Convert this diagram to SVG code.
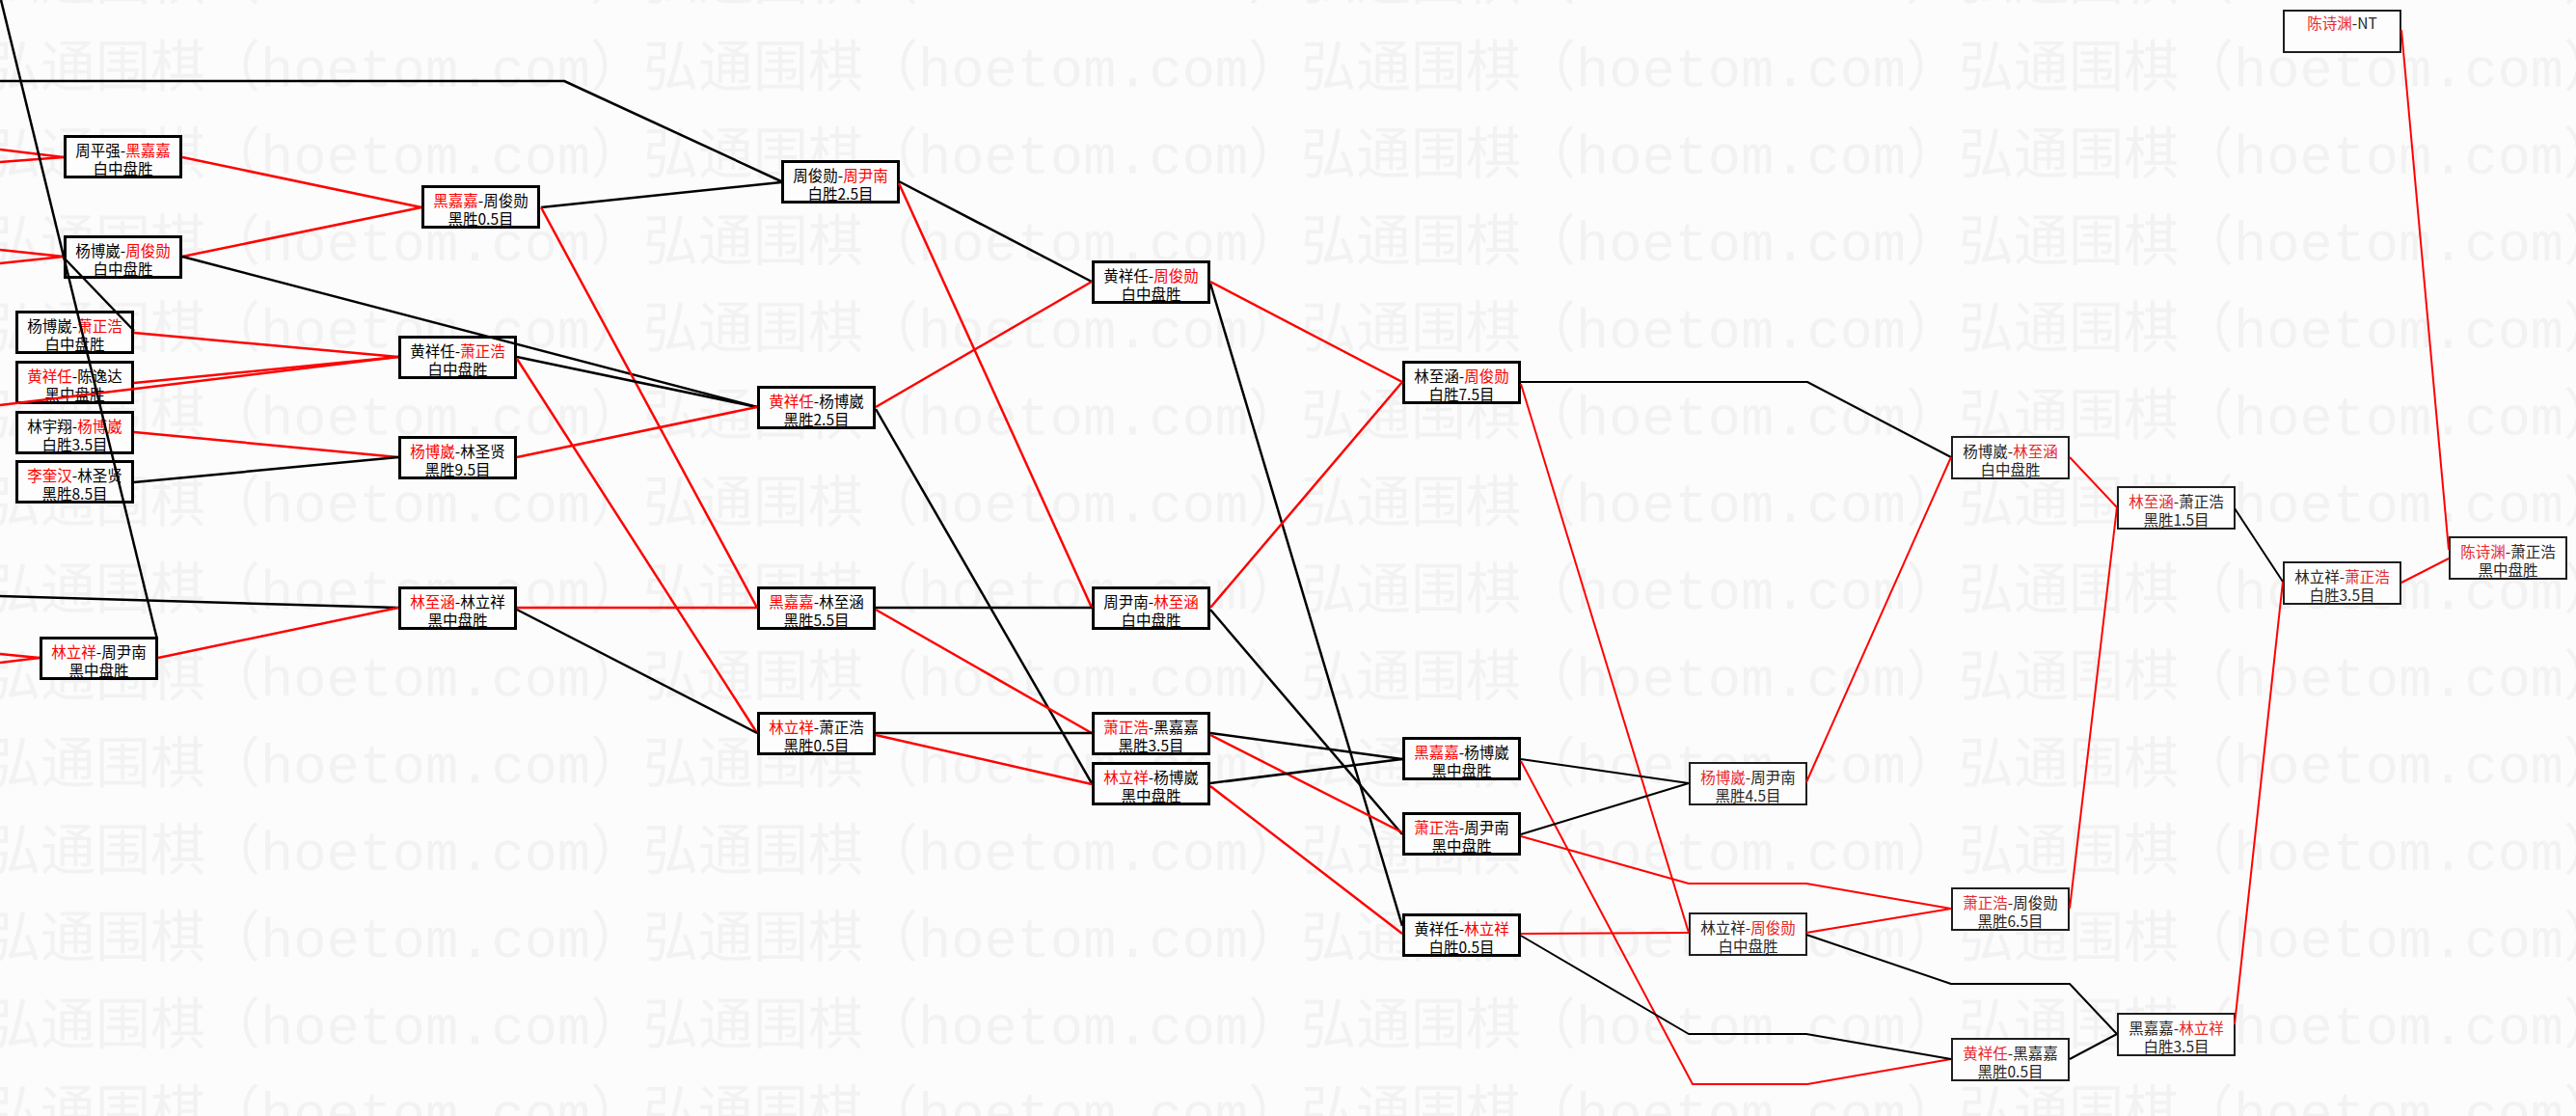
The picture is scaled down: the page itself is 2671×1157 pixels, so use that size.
<svg xmlns="http://www.w3.org/2000/svg" width="2671" height="1157" viewBox="0 0 2671 1157">
<style>
.wm{font-family:"Liberation Mono","Noto Sans CJK SC",monospace;font-size:57px;fill:#f2f2f2}
.n rect{fill:#fdfdfd;stroke:#000;stroke-width:3}
.m rect{fill:#fdfdfd;stroke:#1e1e1e;stroke-width:2}
.n text,.m text{font-family:"Noto Sans CJK SC",sans-serif;font-size:15.5px;text-anchor:middle;fill:#000}
.m text{fill:#262626}
.r{fill:#f00}
.m .r{fill:#e8282c}
#conn polyline{fill:none;stroke-width:2.5;stroke-linejoin:round}
#conn .k{stroke:#000}
#conn .d{stroke:#f00}
#conn .s{stroke-width:2}
</style>
<defs>
<pattern id="wmp" patternUnits="userSpaceOnUse" x="-15" y="30" width="682" height="90.25">
<text class="wm" x="0" y="60">弘通围棋（hoetom.com）</text>
</pattern>
</defs>
<rect width="2671" height="1157" fill="#fcfcfc"/>
<rect id="watermark" width="2671" height="1157" fill="url(#wmp)"/>
<g id="nodes">
<g id="a1" class="n"><rect x="67.5" y="141.5" width="120" height="42"/><text x="127.5" y="161.5">周平强-<tspan class="r">黑嘉嘉</tspan></text><text x="127.5" y="180.5">白中盘胜</text></g>
<g id="a2" class="n"><rect x="67.5" y="245.5" width="120" height="42"/><text x="127.5" y="265.5">杨博崴-<tspan class="r">周俊勋</tspan></text><text x="127.5" y="284.5">白中盘胜</text></g>
<g id="a3" class="n"><rect x="17.5" y="323.5" width="120" height="42"/><text x="77.5" y="343.5">杨博崴-<tspan class="r">萧正浩</tspan></text><text x="77.5" y="362.5">白中盘胜</text></g>
<g id="a4" class="n"><rect x="17.5" y="375.5" width="120" height="42"/><text x="77.5" y="395.5"><tspan class="r">黄祥任</tspan>-陈逸达</text><text x="77.5" y="414.5">黑中盘胜</text></g>
<g id="a5" class="n"><rect x="17.5" y="427.5" width="120" height="42"/><text x="77.5" y="447.5">林宇翔-<tspan class="r">杨博崴</tspan></text><text x="77.5" y="466.5">白胜3.5目</text></g>
<g id="a6" class="n"><rect x="17.5" y="478.5" width="120" height="42"/><text x="77.5" y="498.5"><tspan class="r">李奎汉</tspan>-林圣贤</text><text x="77.5" y="517.5">黑胜8.5目</text></g>
<g id="a7" class="n"><rect x="42.5" y="661.5" width="120" height="42"/><text x="102.5" y="681.5"><tspan class="r">林立祥</tspan>-周尹南</text><text x="102.5" y="700.5">黑中盘胜</text></g>
<g id="b1" class="n"><rect x="438.5" y="193.5" width="120" height="42"/><text x="498.5" y="213.5"><tspan class="r">黑嘉嘉</tspan>-周俊勋</text><text x="498.5" y="232.5">黑胜0.5目</text></g>
<g id="b2" class="n"><rect x="414.5" y="349.5" width="120" height="42"/><text x="474.5" y="369.5">黄祥任-<tspan class="r">萧正浩</tspan></text><text x="474.5" y="388.5">白中盘胜</text></g>
<g id="b3" class="n"><rect x="414.5" y="453.5" width="120" height="42"/><text x="474.5" y="473.5"><tspan class="r">杨博崴</tspan>-林圣贤</text><text x="474.5" y="492.5">黑胜9.5目</text></g>
<g id="b4" class="n"><rect x="414.5" y="609.5" width="120" height="42"/><text x="474.5" y="629.5"><tspan class="r">林至涵</tspan>-林立祥</text><text x="474.5" y="648.5">黑中盘胜</text></g>
<g id="c1" class="n"><rect x="811.5" y="167.5" width="120" height="42"/><text x="871.5" y="187.5">周俊勋-<tspan class="r">周尹南</tspan></text><text x="871.5" y="206.5">白胜2.5目</text></g>
<g id="c2" class="n"><rect x="786.5" y="401.5" width="120" height="42"/><text x="846.5" y="421.5"><tspan class="r">黄祥任</tspan>-杨博崴</text><text x="846.5" y="440.5">黑胜2.5目</text></g>
<g id="c3" class="n"><rect x="786.5" y="609.5" width="120" height="42"/><text x="846.5" y="629.5"><tspan class="r">黑嘉嘉</tspan>-林至涵</text><text x="846.5" y="648.5">黑胜5.5目</text></g>
<g id="c4" class="n"><rect x="786.5" y="739.5" width="120" height="42"/><text x="846.5" y="759.5"><tspan class="r">林立祥</tspan>-萧正浩</text><text x="846.5" y="778.5">黑胜0.5目</text></g>
<g id="d1" class="n"><rect x="1133.5" y="271.5" width="120" height="42"/><text x="1193.5" y="291.5">黄祥任-<tspan class="r">周俊勋</tspan></text><text x="1193.5" y="310.5">白中盘胜</text></g>
<g id="d2" class="n"><rect x="1133.5" y="609.5" width="120" height="42"/><text x="1193.5" y="629.5">周尹南-<tspan class="r">林至涵</tspan></text><text x="1193.5" y="648.5">白中盘胜</text></g>
<g id="d3" class="n"><rect x="1133.5" y="739.5" width="120" height="42"/><text x="1193.5" y="759.5"><tspan class="r">萧正浩</tspan>-黑嘉嘉</text><text x="1193.5" y="778.5">黑胜3.5目</text></g>
<g id="d4" class="n"><rect x="1133.5" y="791.5" width="120" height="42"/><text x="1193.5" y="811.5"><tspan class="r">林立祥</tspan>-杨博崴</text><text x="1193.5" y="830.5">黑中盘胜</text></g>
<g id="e1" class="n"><rect x="1455.5" y="375.5" width="120" height="42"/><text x="1515.5" y="395.5">林至涵-<tspan class="r">周俊勋</tspan></text><text x="1515.5" y="414.5">白胜7.5目</text></g>
<g id="e2" class="n"><rect x="1455.5" y="765.5" width="120" height="42"/><text x="1515.5" y="785.5"><tspan class="r">黑嘉嘉</tspan>-杨博崴</text><text x="1515.5" y="804.5">黑中盘胜</text></g>
<g id="e3" class="n"><rect x="1455.5" y="843.5" width="120" height="42"/><text x="1515.5" y="863.5"><tspan class="r">萧正浩</tspan>-周尹南</text><text x="1515.5" y="882.5">黑中盘胜</text></g>
<g id="e4" class="n"><rect x="1455.5" y="948.5" width="120" height="42"/><text x="1515.5" y="968.5">黄祥任-<tspan class="r">林立祥</tspan></text><text x="1515.5" y="987.5">白胜0.5目</text></g>
<g id="f1" class="m"><rect x="1752" y="791" width="121" height="43"/><text x="1812.5" y="811.5"><tspan class="r">杨博崴</tspan>-周尹南</text><text x="1812.5" y="830.5">黑胜4.5目</text></g>
<g id="f2" class="m"><rect x="1752" y="947" width="121" height="43"/><text x="1812.5" y="967.5">林立祥-<tspan class="r">周俊勋</tspan></text><text x="1812.5" y="986.5">白中盘胜</text></g>
<g id="g1" class="m"><rect x="2024" y="453" width="121" height="43"/><text x="2084.5" y="473.5">杨博崴-<tspan class="r">林至涵</tspan></text><text x="2084.5" y="492.5">白中盘胜</text></g>
<g id="g2" class="m"><rect x="2024" y="921" width="121" height="43"/><text x="2084.5" y="941.5"><tspan class="r">萧正浩</tspan>-周俊勋</text><text x="2084.5" y="960.5">黑胜6.5目</text></g>
<g id="g3" class="m"><rect x="2024" y="1077" width="121" height="43"/><text x="2084.5" y="1097.5"><tspan class="r">黄祥任</tspan>-黑嘉嘉</text><text x="2084.5" y="1116.5">黑胜0.5目</text></g>
<g id="h1" class="m"><rect x="2196" y="505" width="121" height="43"/><text x="2256.5" y="525.5"><tspan class="r">林至涵</tspan>-萧正浩</text><text x="2256.5" y="544.5">黑胜1.5目</text></g>
<g id="h2" class="m"><rect x="2196" y="1051" width="121" height="43"/><text x="2256.5" y="1071.5">黑嘉嘉-<tspan class="r">林立祥</tspan></text><text x="2256.5" y="1090.5">白胜3.5目</text></g>
<g id="i1" class="m"><rect x="2368" y="11" width="121" height="43"/><text x="2428.5" y="30"><tspan class="r">陈诗渊</tspan>-NT</text></g>
<g id="i2" class="m"><rect x="2368" y="583" width="121" height="43"/><text x="2428.5" y="603.5">林立祥-<tspan class="r">萧正浩</tspan></text><text x="2428.5" y="622.5">白胜3.5目</text></g>
<g id="j1" class="m"><rect x="2540" y="557" width="121" height="43"/><text x="2600.5" y="577.5"><tspan class="r">陈诗渊</tspan>-萧正浩</text><text x="2600.5" y="596.5">黑中盘胜</text></g>
</g>
<g id="conn">
<polyline class="d" points="0,155 66,163"/>
<polyline class="d" points="0,168 66,163"/>
<polyline class="d" points="0,259 66,266"/>
<polyline class="d" points="0,273 66,266"/>
<polyline class="d" points="0,420 413,370"/>
<polyline class="k" points="0,618 413,630"/>
<polyline class="d" points="0,678 41,682"/>
<polyline class="d" points="0,687 41,682"/>
<polyline class="k" points="1,0 163,663"/>
<polyline class="k" points="0,84 585,84 810,188"/>
<polyline class="d" points="189,163 437,215"/>
<polyline class="d" points="189,266 437,215"/>
<polyline class="k" points="189,266 785,422"/>
<polyline class="k" points="66,267 139,343"/>
<polyline class="d" points="139,345 413,370"/>
<polyline class="d" points="139,397 413,370"/>
<polyline class="d" points="139,448 413,474"/>
<polyline class="k" points="139,500 413,474"/>
<polyline class="d" points="164,682 413,630"/>
<polyline class="k" points="561,215 810,189"/>
<polyline class="d" points="561,215 785,630"/>
<polyline class="k" points="536,370 785,422"/>
<polyline class="d" points="536,372 785,760"/>
<polyline class="d" points="536,474 785,422"/>
<polyline class="d" points="536,630 785,630"/>
<polyline class="k" points="536,632 785,760"/>
<polyline class="k" points="932,188 1132,292"/>
<polyline class="d" points="932,190 1132,630"/>
<polyline class="d" points="908,422 1132,292"/>
<polyline class="k" points="908,424 1132,812"/>
<polyline class="k" points="908,630 1132,630"/>
<polyline class="d" points="908,632 1132,760"/>
<polyline class="k" points="908,760 1132,760"/>
<polyline class="d" points="908,762 1132,813"/>
<polyline class="d" points="1255,292 1454,396"/>
<polyline class="k" points="1255,294 1454,960"/>
<polyline class="d" points="1255,630 1454,396"/>
<polyline class="k" points="1255,632 1454,865"/>
<polyline class="k" points="1255,760 1454,787"/>
<polyline class="d" points="1255,762 1454,863"/>
<polyline class="k" points="1255,812 1454,787"/>
<polyline class="d" points="1255,815 1454,968"/>
<polyline class="k s" points="1577,396 1874,396 2023,474"/>
<polyline class="d s" points="1577,398 1751,967"/>
<polyline class="k s" points="1577,787 1751,812"/>
<polyline class="d s" points="1577,789 1755,1124 1874,1124 2023,1098"/>
<polyline class="k s" points="1577,865 1751,812"/>
<polyline class="d s" points="1577,867 1751,916 1873,916 2023,942"/>
<polyline class="d s" points="1577,968 1751,967"/>
<polyline class="k s" points="1577,970 1751,1072 1873,1072 2023,1098"/>
<polyline class="d s" points="1873,811 2023,474"/>
<polyline class="d s" points="1873,967 2023,942"/>
<polyline class="k s" points="1873,969 2023,1020 2146,1020 2195,1072"/>
<polyline class="d s" points="2146,474 2195,526"/>
<polyline class="d s" points="2146,942 2195,526"/>
<polyline class="k s" points="2146,1098 2195,1072"/>
<polyline class="k s" points="2317,527 2367,603"/>
<polyline class="d s" points="2317,1062 2367,603"/>
<polyline class="d s" points="2490,604 2539,579"/>
<polyline class="d s" points="2490,31 2539,570"/>
</g>
</svg>
